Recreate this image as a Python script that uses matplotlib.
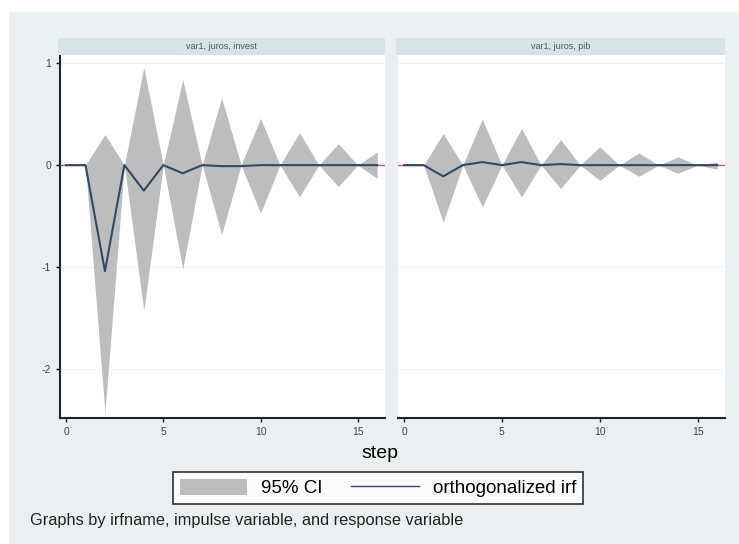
import numpy as np
import matplotlib.pyplot as plt
from matplotlib.patches import Patch, Rectangle
from matplotlib.lines import Line2D

plt.rcParams['font.family'] = ['Liberation Sans', 'DejaVu Sans']
plt.rcParams['axes.unicode_minus'] = False

# ---------------------------
# data
# ---------------------------
steps = np.arange(0, 17)
panel_titles = ['var1, juros, invest', 'var1, juros, pib']

irf_invest = [0, 0, -1.04, 0.0, -0.25, 0.0, -0.08, 0.0, -0.01, -0.01,
              0, 0, 0, 0, 0, 0, 0]
upper_invest = [0, 0, 0.30, 0.0, 0.96, 0.0, 0.84, 0.0, 0.66, 0.0,
                0.46, 0.0, 0.32, 0.0, 0.21, 0.0, 0.13]
lower_invest = [0, 0, -2.43, 0.0, -1.43, 0.0, -1.02, 0.0, -0.68, 0.0,
                -0.47, 0.0, -0.31, 0.0, -0.21, 0.0, -0.13]

irf_pib = [0, 0, -0.11, 0.0, 0.03, 0.0, 0.03, 0.0, 0.01, 0.0,
           0, 0, 0, 0, 0, 0, 0]
upper_pib = [0, 0, 0.31, 0.0, 0.45, 0.0, 0.36, 0.0, 0.25, 0.0,
             0.18, 0.0, 0.12, 0.0, 0.08, 0.0, 0.03]
lower_pib = [0, 0, -0.56, 0.0, -0.41, 0.0, -0.31, 0.0, -0.23, 0.0,
             -0.15, 0.0, -0.11, 0.0, -0.08, 0.0, -0.04]

irfs = [irf_invest, irf_pib]
uppers = [upper_invest, upper_pib]
lowers = [lower_invest, lower_pib]

# ---------------------------
# figure
# ---------------------------
W, H = 739, 544
bg = '#eaf0f2'
ci_color = '#bdbdbd'
line_color = '#2e4a66'

fig = plt.figure(figsize=(W / 100, H / 100), dpi=100)
fig.patch.set_facecolor('white')
fig.patches.append(Rectangle((9 / W, 0), 1 - 9 / W, 1 - 12 / H,
                             transform=fig.transFigure, color=bg, zorder=-10))

lefts = [60, 398]
widths = [325, 327]
top_px, bottom_px = 55, 418

for i in range(2):
    ax = fig.add_axes([lefts[i] / W, 1 - bottom_px / H,
                       widths[i] / W, (bottom_px - top_px) / H])
    ax.set_facecolor('white')
    ax.fill_between(steps, lowers[i], uppers[i], color=ci_color, lw=0, zorder=2)
    ax.axhline(0, color='#d9536e', lw=1, zorder=1)
    ax.plot(steps, irfs[i], color=line_color, lw=1.5, zorder=3)
    ax.set_xlim(-0.31, 16.4)
    ax.set_ylim(-2.48, 1.08)
    ax.set_yticks([-2, -1, 0, 1])
    ax.set_xticks([0, 5, 10, 15])
    for y in [-2, -1, 0, 1]:
        ax.axhline(y, color='#eef3f5', lw=0.8, zorder=0)
    for s in ['top', 'right']:
        ax.spines[s].set_visible(False)
    ax.spines['bottom'].set_linewidth(1.5)
    ax.spines['bottom'].set_color('#222222')
    ax.tick_params(axis='x', length=3, width=1, labelsize=7.5, colors='#222222',
                   labelcolor='#444444')
    if i == 0:
        ax.spines['left'].set_linewidth(1.5)
        ax.spines['left'].set_color('#222222')
        ax.tick_params(axis='y', length=3, width=1, labelsize=7.5,
                       labelcolor='#444444')
    else:
        ax.spines['left'].set_visible(False)
        ax.tick_params(axis='y', left=False, labelleft=False)

    # header strip
    sx = fig.add_axes([(lefts[i] - 2) / W, 1 - top_px / H,
                       (widths[i] + 2) / W, 17 / H])
    sx.set_facecolor('#d6e3e9')
    sx.set_xticks([])
    sx.set_yticks([])
    for s in sx.spines.values():
        s.set_visible(False)
    sx.text(0.5, 0.5, panel_titles[i], ha='center', va='center',
            fontsize=6.5, color='#555555', transform=sx.transAxes)

fig.text(380 / W, 1 - 453 / H, 'step', ha='center', va='center', fontsize=14)

handles = [Patch(facecolor=ci_color, edgecolor='none'),
           Line2D([], [], color=line_color, lw=1)]
leg = fig.legend(handles, ['95% CI', 'orthogonalized irf'], loc='center',
                 bbox_to_anchor=(378 / W, 1 - 488 / H), ncol=2, fontsize=13.5,
                 frameon=True, fancybox=False, edgecolor='black',
                 handlelength=3.6, handleheight=1.0, handletextpad=0.75,
                 columnspacing=1.5, borderpad=0.35, borderaxespad=0)
leg.get_frame().set_linewidth(1.2)

fig.text(30 / W, 1 - 520 / H,
         'Graphs by irfname, impulse variable, and response variable',
         ha='left', va='center', fontsize=11.8, color='#222222')

fig.savefig('out.png', dpi=100, facecolor=fig.get_facecolor())
